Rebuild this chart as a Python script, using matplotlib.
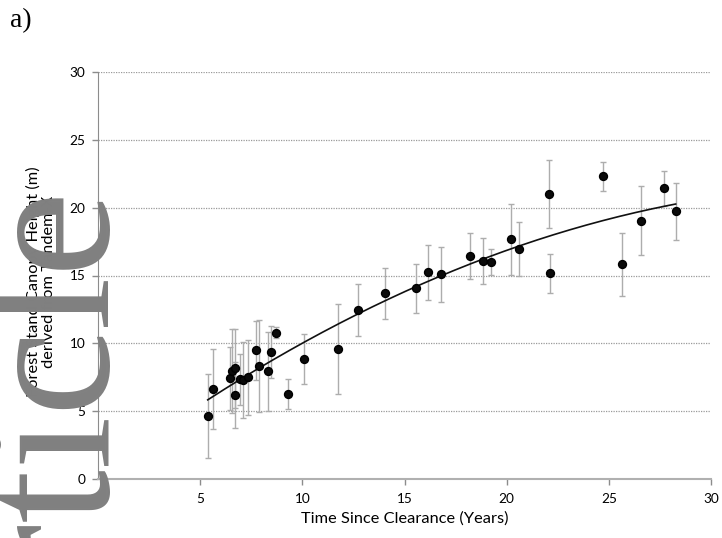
import numpy as np
import matplotlib
matplotlib.use("Agg")
import matplotlib.pyplot as plt
from matplotlib.textpath import TextPath
from matplotlib.font_manager import FontProperties

# ---- data ----
years = [5.37, 5.62, 6.47, 6.54, 6.72, 6.69, 6.93, 7.08, 7.36, 7.75, 7.90, 8.32, 8.47,
         8.72, 9.31, 10.06, 11.73, 12.72, 14.06, 15.58, 16.16, 16.77, 18.21, 18.85, 19.22,
         20.21, 20.58, 22.06, 22.14, 24.71, 25.64, 26.56, 27.70, 28.27]
height = [4.67, 6.63, 7.42, 7.96, 8.16, 6.19, 7.35, 7.30, 7.49, 9.48, 8.33, 7.94, 9.38,
          10.78, 6.26, 8.82, 9.60, 12.45, 13.68, 14.05, 15.23, 15.08, 16.46, 16.04, 15.97,
          17.66, 16.93, 20.98, 15.16, 22.30, 15.82, 19.04, 21.42, 19.75]
height_err = [3.1, 2.95, 2.3, 3.1, 2.9, 2.46, 1.86, 2.77, 2.78, 2.2, 3.4, 2.9, 1.9,
              0.4, 1.08, 1.85, 3.3, 1.9, 1.9, 1.8, 2.0, 2.0, 1.7, 1.7, 0.95,
              2.6, 2.0, 2.5, 1.45, 1.1, 2.3, 2.55, 1.3, 2.1]
x_ticks = [5, 10, 15, 20, 25, 30]
y_ticks = [0, 5, 10, 15, 20, 25, 30]

FONT = "Lato"
W, H = 722, 538
DPI = 100

fig = plt.figure(figsize=(W/DPI, H/DPI), dpi=DPI)
ax = fig.add_axes([98/W, 59/H, (711-98)/W, (479-72)/H])

ax.errorbar(years, height, yerr=height_err, fmt='none', ecolor='#adadad',
            elinewidth=1.0, capsize=2.5, capthick=1.0, zorder=2)
ax.plot(years, height, 'o', color='#0a0a0a', markersize=5.6,
        markeredgecolor='#000000', markeredgewidth=1.1, zorder=4)

# polynomial (order 2) trendline fitted to the data
coef = np.polyfit(years, height, 2)
xs = np.linspace(min(years), max(years), 200)
ax.plot(xs, np.polyval(coef, xs), color='#111111', lw=1.2, zorder=3)

ax.set_xlim(0, 30)
ax.set_ylim(0, 30)
ax.set_xticks(x_ticks)
ax.set_yticks(y_ticks)
ax.set_xticklabels([str(t) for t in x_ticks], fontsize=9.8, family=FONT)
ax.set_yticklabels([str(t) for t in y_ticks], fontsize=9.8, family=FONT)
ax.tick_params(axis='both', length=4, width=1, color='#8c8c8c', direction='out', pad=5)
ax.tick_params(axis='x', pad=6)

for s in ['top', 'right']:
    ax.spines[s].set_visible(False)
ax.spines['left'].set_color('#8c8c8c')
ax.spines['bottom'].set_color('#b0b0b0')
ax.spines['bottom'].set_linewidth(1.5)

ax.yaxis.grid(True, linestyle=(0, (1, 1)), color='#9a9a9a', lw=0.9)
ax.set_axisbelow(True)

ax.set_xlabel("Time Since Clearance (Years)", fontsize=11.8, family=FONT, labelpad=5)
fig.text(41/W, 1 - 282/H, "Forest Stand Canopy Height (m)\nderived from Tandem-X",
         rotation=90, ha='center', va='center', multialignment='center',
         fontsize=11.8, family=FONT, linespacing=1.15)

fig.text(10/W, 1 - 27/H, "a)", fontsize=20, family="Liberation Serif",
         ha='left', va='baseline')

# ---- watermark "Article", rotated, sized from glyph ink extents ----
fp = FontProperties(family="Liberation Serif")
word = "Article"
cle_path = TextPath((0, 0), "cle", size=1, prop=fp)
cle_ink = cle_path.vertices[:, 0].max() - cle_path.vertices[:, 0].min()
em_px = (413 - 195) / cle_ink          # reference: ink of "cle" spans y 195..413 px
fs_pt = em_px * 72 / DPI
word_path = TextPath((0, 0), word, size=1, prop=fp)
end_ink = word_path.vertices[:, 0].max() * em_px   # ink end measured from origin
origin_y_px = 195 + end_ink                        # where the word starts (from top)
fig.text(107/W, 1 - origin_y_px/H, word, rotation=90, rotation_mode='anchor',
         ha='left', va='baseline', fontsize=fs_pt, family="Liberation Serif",
         color='#808080', zorder=10)

fig.savefig("out.png", dpi=DPI)
